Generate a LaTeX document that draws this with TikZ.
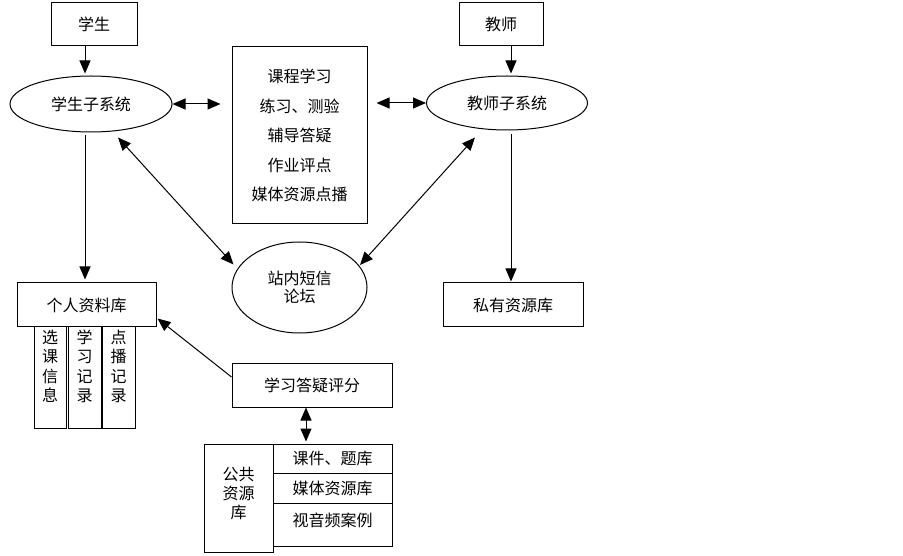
\documentclass[tikz,border=0pt]{standalone}
\usepackage{fontspec}
\newfontfamily\cjk{Noto Sans CJK SC}
\usetikzlibrary{shapes.geometric,arrows.meta,calc}
\begin{document}
\begin{tikzpicture}[x=1pt,y=-1pt,
  every node/.style={font=\cjk\fontsize{16}{19}\selectfont, inner sep=0pt},
  box/.style={draw, line width=1pt, rectangle, align=center},
  ell/.style={draw, line width=1pt, ellipse, align=center},
  arr/.style={line width=1pt, -{Triangle[length=13pt,width=11pt]}},
  dbl/.style={line width=1pt, {Triangle[length=13pt,width=11pt]}-{Triangle[length=13pt,width=11pt]}}
]
\useasboundingbox[fill=white] (0,0) rectangle (903,556);

\node[box, minimum width=86pt, minimum height=43pt] (stu) at (94,24.5) {学生};
\node[box, minimum width=84pt, minimum height=43pt] (tea) at (501,24.5) {教师};
\node[ell, minimum width=162pt, minimum height=56pt] (ss) at (91,104) {学生子系统};
\node[ell, minimum width=161pt, minimum height=54pt] (ts) at (507,103) {教师子系统};
\node[box, minimum width=135pt, minimum height=177pt,
      font=\cjk\fontsize{16}{29.5}\selectfont] (mid) at (299.5,135.5)
  {课程学习\\练习、测验\\辅导答疑\\作业评点\\媒体资源点播};
\node[ell, minimum width=135pt, minimum height=91pt,
      font=\cjk\fontsize{16}{18.5}\selectfont] (forum) at (299.5,287.5) {站内短信\\论坛};
\node[box, minimum width=139pt, minimum height=44pt] (pdb) at (86.5,305) {个人资料库};
\node[box, minimum width=140pt, minimum height=44pt] (priv) at (513,305) {私有资源库};

\node[box, minimum width=32pt, minimum height=101pt] (c1) at (50,377.5) {};
\node[box, minimum width=33pt, minimum height=101pt] (c2) at (84.5,377.5) {};
\node[box, minimum width=33pt, minimum height=101pt] (c3) at (118.5,377.5) {};
\node[anchor=north, align=center, font=\cjk\fontsize{16}{19.5}\selectfont] (t1) at ($(c1.north)+(0,3)$) {选\\课\\信\\息};
\node[anchor=north, align=center, font=\cjk\fontsize{16}{19.5}\selectfont] (t2) at ($(c2.north)+(0,3)$) {学\\习\\记\\录};
\node[anchor=north, align=center, font=\cjk\fontsize{16}{19.5}\selectfont] (t3) at ($(c3.north)+(0,3)$) {点\\播\\记\\录};

\node[box, minimum width=160pt, minimum height=44pt] (score) at (312,385) {学习答疑评分};

\node[box, minimum width=69pt, minimum height=108pt] (pub) at (238.5,498) {};
\node[align=center, font=\cjk\fontsize{16}{19}\selectfont] (pubt) at (238.5,494) {公共\\资源\\库};
\node[box, minimum width=119pt, minimum height=29pt] (r1) at (332.5,458.5) {课件、题库};
\node[box, minimum width=119pt, minimum height=30pt] (r2) at (332.5,488) {媒体资源库};
\node[box, minimum width=119pt, minimum height=43pt] (r3) at (332.5,524.5) {};
\node (r3t) at (332.5,520) {视音频案例};

% connectors
\draw[arr] ($(stu.south)+(-9,0)$) -- ($(ss.north)+(-6,-2)$);
\draw[arr] ($(tea.south)+(10,0)$) -- ($(ts.north)+(4,-2)$);
\draw[arr] ($(ss.south)+(-6,3)$) -- ($(pdb.north)+(-1.5,-3)$);
\draw[arr] ($(ts.south)+(4,4)$) -- ($(priv.north)+(-2,-1)$);
\draw[dbl] ($(ss.east)+(0,0)$) -- ($(mid.west |- ss.east)+(-11,0)$);
\draw[dbl] ($(mid.east |- ts.west)+(9,0)$) -- (ts.west);
\draw[dbl] ($(ss.south)+(27,5)$) -- ($(forum.center)+(-66,-23)$);
\draw[dbl] ($(ts.south)+(-32,7)$) -- ($(forum.center)+(60.5,-22.5)$);
\draw[arr] ($(score.west)+(0,-8)$) -- ($(pdb.south east)+(1,-9)$);
\draw[dbl] ($(score.south)+(-6,0)$) -- ($(r1.north)+(-26.5,-2)$);
\end{tikzpicture}
\end{document}
